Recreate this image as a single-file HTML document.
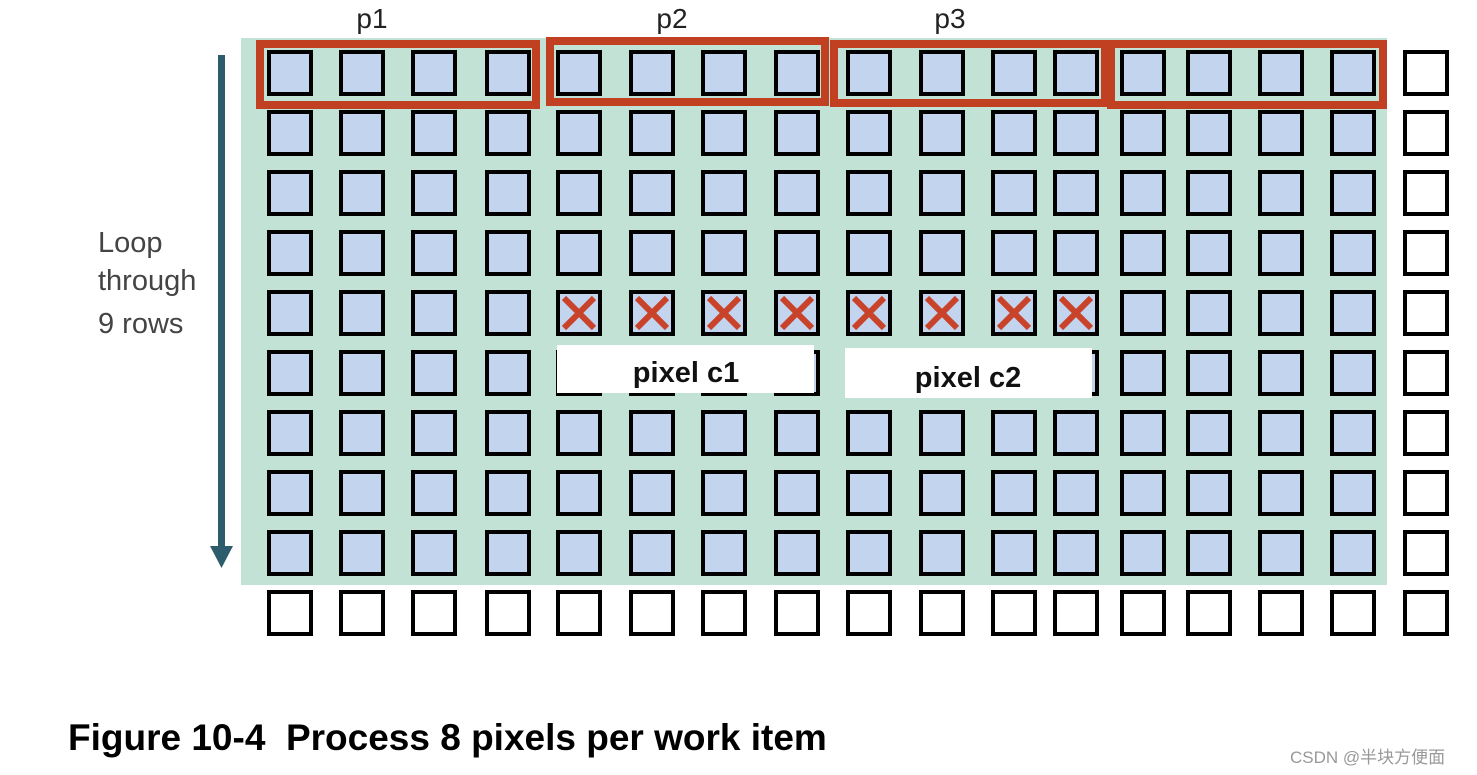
<!DOCTYPE html>
<html><head><meta charset="utf-8"><style>html,body{margin:0;padding:0;background:#fff;}svg{display:block}</style></head>
<body>
<svg width="1477" height="775" viewBox="0 0 1477 775" xmlns="http://www.w3.org/2000/svg" xmlns:xlink="http://www.w3.org/1999/xlink">
<defs>
<g id="row" stroke="#000" stroke-width="4" fill="#c3d4ee">
<rect x="269" y="52" width="42" height="42"/>
<rect x="341" y="52" width="42" height="42"/>
<rect x="413" y="52" width="42" height="42"/>
<rect x="487" y="52" width="42" height="42"/>
<rect x="558" y="52" width="42" height="42"/>
<rect x="631" y="52" width="42" height="42"/>
<rect x="703" y="52" width="42" height="42"/>
<rect x="776" y="52" width="42" height="42"/>
<rect x="848" y="52" width="42" height="42"/>
<rect x="921" y="52" width="42" height="42"/>
<rect x="993" y="52" width="42" height="42"/>
<rect x="1055" y="52" width="42" height="42"/>
<rect x="1122" y="52" width="42" height="42"/>
<rect x="1188" y="52" width="42" height="42"/>
<rect x="1260" y="52" width="42" height="42"/>
<rect x="1332" y="52" width="42" height="42"/>
<rect x="1405" y="52" width="42" height="42" fill="#fff"/>
</g>
</defs>
<rect x="241" y="38" width="1146" height="547" fill="#c1e2d4"/>
<use xlink:href="#row" href="#row"/>
<use xlink:href="#row" href="#row" transform="translate(0,60)"/>
<use xlink:href="#row" href="#row" transform="translate(0,120)"/>
<use xlink:href="#row" href="#row" transform="translate(0,180)"/>
<use xlink:href="#row" href="#row" transform="translate(0,240)"/>
<use xlink:href="#row" href="#row" transform="translate(0,300)"/>
<use xlink:href="#row" href="#row" transform="translate(0,360)"/>
<use xlink:href="#row" href="#row" transform="translate(0,420)"/>
<use xlink:href="#row" href="#row" transform="translate(0,480)"/>
<g stroke="#000" stroke-width="4" fill="#fff">
<rect x="269" y="592" width="42" height="42"/>
<rect x="341" y="592" width="42" height="42"/>
<rect x="413" y="592" width="42" height="42"/>
<rect x="487" y="592" width="42" height="42"/>
<rect x="558" y="592" width="42" height="42"/>
<rect x="631" y="592" width="42" height="42"/>
<rect x="703" y="592" width="42" height="42"/>
<rect x="776" y="592" width="42" height="42"/>
<rect x="848" y="592" width="42" height="42"/>
<rect x="921" y="592" width="42" height="42"/>
<rect x="993" y="592" width="42" height="42"/>
<rect x="1055" y="592" width="42" height="42"/>
<rect x="1122" y="592" width="42" height="42"/>
<rect x="1188" y="592" width="42" height="42"/>
<rect x="1260" y="592" width="42" height="42"/>
<rect x="1332" y="592" width="42" height="42"/>
<rect x="1405" y="592" width="42" height="42"/>
</g>
<g stroke="#c8432a" stroke-width="6" fill="none">
<path d="M564 298L594 328M594 298L564 328"/>
<path d="M637 298L667 328M667 298L637 328"/>
<path d="M709 298L739 328M739 298L709 328"/>
<path d="M782 298L812 328M812 298L782 328"/>
<path d="M854 298L884 328M884 298L854 328"/>
<path d="M927 298L957 328M957 298L927 328"/>
<path d="M999 298L1029 328M1029 298L999 328"/>
<path d="M1061 298L1091 328M1091 298L1061 328"/>
</g>
<rect x="557" y="345" width="257" height="48" fill="#fff"/>
<rect x="845" y="348" width="247" height="50" fill="#fff"/>
<text x="686" y="382" font-family="Liberation Sans, sans-serif" font-weight="bold" font-size="29" text-anchor="middle" fill="#111">pixel c1</text>
<text x="968" y="387" font-family="Liberation Sans, sans-serif" font-weight="bold" font-size="29" text-anchor="middle" fill="#111">pixel c2</text>
<g fill="none" stroke="#c14022" stroke-width="8">
<rect x="260" y="44" width="276" height="61"/>
<rect x="550" y="41" width="275" height="61"/>
<rect x="834" y="44" width="271" height="59"/>
<rect x="1111" y="44" width="272" height="61"/>
</g>
<g font-family="Liberation Sans, sans-serif" font-size="28" fill="#222" text-anchor="middle">
<text x="372" y="28">p1</text><text x="672" y="28">p2</text><text x="950" y="28">p3</text>
</g>
<rect x="218" y="55" width="7" height="495" fill="#2d5c6c"/>
<polygon points="210,546 233,546 221.5,568" fill="#2d5c6c"/>
<g font-family="Liberation Sans, sans-serif" font-size="29" fill="#444">
<text x="98" y="252">Loop</text><text x="98" y="290">through</text><text x="98" y="333">9 rows</text>
</g>
<text x="68" y="750" font-family="Liberation Sans, sans-serif" font-weight="bold" font-size="37" fill="#000" xml:space="preserve">Figure 10-4  Process 8 pixels per work item</text>
<text x="1290" y="763" font-family="Liberation Sans, 'Noto Sans CJK SC', sans-serif" font-size="17" fill="#999">CSDN @半块方便面</text>
</svg>
</body></html>
